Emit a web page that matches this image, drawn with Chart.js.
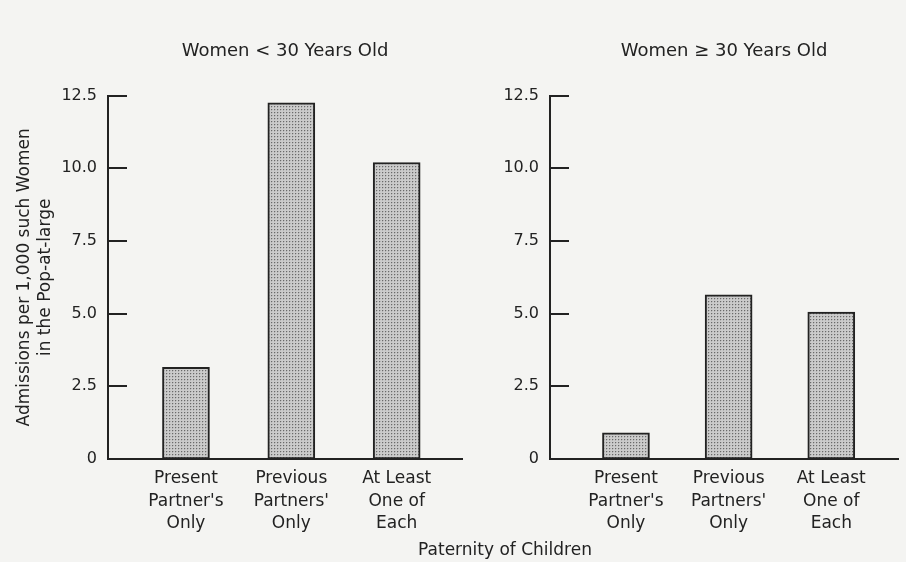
<!DOCTYPE html>
<html>
<head>
<meta charset="utf-8">
<script src="https://cdn.jsdelivr.net/npm/chart.js@4"></script>
<style>
  body{margin:0;background:#f4f4f2;width:906px;height:562px;overflow:hidden;position:relative;font-family:'DejaVu Sans',sans-serif;color:#222}
  canvas{position:absolute;top:0}
  #cL{left:0}
  #cR{left:470px}
  #xt{position:absolute;left:0;width:1010px;top:539px;text-align:center;font-size:17px}
</style>
</head>
<body>
<canvas id="cL" width="470" height="562"></canvas>
<canvas id="cR" width="436" height="562"></canvas>
<div id="xt">Paternity of Children</div>
<script>
// data
const CATEGORIES=[['Present',"Partner's",'Only'],['Previous',"Partners'",'Only'],['At Least','One of','Each']];
const YOUNG=[3.15,12.25,10.2];   // women < 30
const OLDER=[0.9,5.65,5.05];     // women >= 30
const Y_TICKS=[0,2.5,5,7.5,10,12.5];
const TITLE_L='Women < 30 Years Old';
const TITLE_R='Women \u2265 30 Years Old';
const Y_TITLE=['Admissions per 1,000 such Women','in the Pop-at-large'];

const INK='#222';
Chart.defaults.font.family="'DejaVu Sans', sans-serif";
Chart.defaults.color=INK;

// stipple fill like the printed screen tone
function stipple(){
  const p=document.createElement('canvas');p.width=3;p.height=3;
  const c=p.getContext('2d');
  c.fillStyle='#cbcbcb';c.fillRect(0,0,3,3);
  c.fillStyle='#6a6a6a';c.fillRect(1,1,1,1);
  c.fillStyle='#b4b4b4';c.fillRect(2,1,1,1);c.fillRect(1,2,1,1);
  return c.createPattern(p,'repeat');
}

// y ticks are drawn inward from the axis
const innerTicks={id:'innerTicks',afterDatasetsDraw(chart){
  const y=chart.scales.y,a=chart.chartArea,c=chart.ctx;
  c.save();c.strokeStyle=INK;c.lineWidth=2;
  y.ticks.forEach(t=>{
    if(t.value===0)return;
    const py=Math.round(y.getPixelForValue(t.value));
    c.beginPath();c.moveTo(a.left,py);c.lineTo(a.left+19,py);c.stroke();
  });
  c.restore();
}};

function panel(id,vals,title,yW,xMin,xMax,withYTitle){
  return new Chart(document.getElementById(id),{
    type:'bar',
    data:{datasets:[{
      data:vals.map((v,i)=>({x:i+1,y:v})),
      backgroundColor:stipple(),borderColor:INK,borderWidth:2,borderSkipped:false,barThickness:47
    }]},
    options:{
      responsive:false,animation:false,devicePixelRatio:1,
      layout:{padding:{left:0,right:8,top:0,bottom:0}},
      plugins:{
        legend:{display:false},tooltip:{enabled:false},
        title:{display:true,text:title,fullSize:false,font:{size:18,weight:'normal',lineHeight:1.2},color:INK,padding:{top:41,bottom:33}}
      },
      scales:{
        x:{type:'linear',min:xMin,max:xMax,offset:false,
          afterBuildTicks:s=>{s.ticks=CATEGORIES.map((c,i)=>({value:i+1}));},
          afterFit:s=>{s.height=103;},
          grid:{display:false,drawTicks:false,offset:false},
          border:{display:true,color:INK,width:2},
          ticks:{autoSkip:false,maxRotation:0,padding:9,font:{size:17,lineHeight:1.3},color:INK,callback:v=>CATEGORIES[v-1]}
        },
        y:{min:0,max:12.5,
          afterBuildTicks:s=>{s.ticks=Y_TICKS.map(v=>({value:v}));},
          afterFit:s=>{s.width=yW;},
          grid:{display:false,drawTicks:false},
          border:{display:true,color:INK,width:2},
          ticks:{padding:11,font:{size:16},color:INK,callback:v=>v===0?'0':v.toFixed(1)},
          title:{display:withYTitle,text:Y_TITLE,font:{size:17,lineHeight:1.25},color:INK,padding:{top:14,bottom:0}}
        }
      }
    },
    plugins:[innerTicks]
  });
}

panel('cL',YOUNG,TITLE_L,108,0.26,3.62,true);
panel('cR',OLDER,TITLE_R,80,0.26,3.65,false);
</script>
</body>
</html>
